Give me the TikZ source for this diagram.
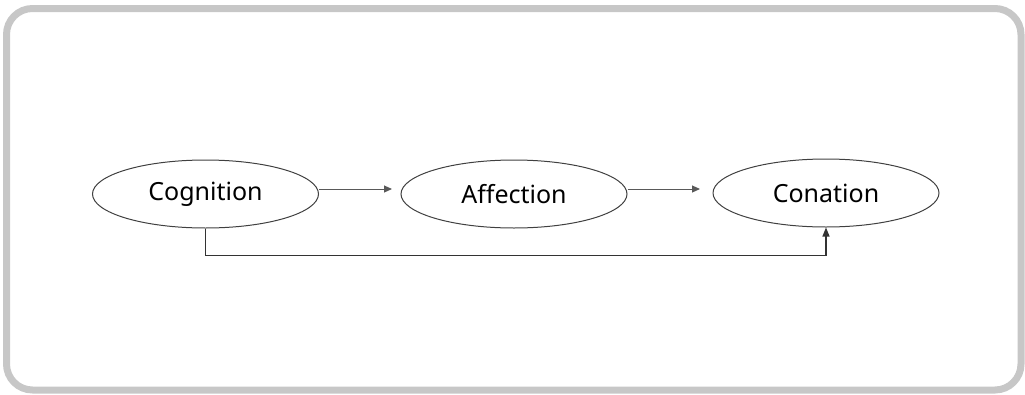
\documentclass[tikz,border=0pt]{standalone}
\usepackage{fontspec}
\setmainfont{Noto Sans}
\usetikzlibrary{shapes.geometric,arrows.meta}

\tikzset{
    stage/.style={ellipse, draw=black!75, line width=1pt, minimum width=226pt,
        minimum height=68pt, inner sep=0pt, font=\fontsize{25}{29}\selectfont},
    link/.style={draw=black!65, line width=1pt, -{Triangle[length=8pt,width=7pt]}},
}

\begin{document}
\begin{tikzpicture}[x=1pt, y=-1pt]
        % 画布大小与参考图一致
        \useasboundingbox (0, 0) rectangle (1025, 394);
        \draw[black!22, line width=7pt, rounded corners=26pt]
            (6.5, 8.5) rectangle (1021, 390);

        % 三个阶段
        \node[stage] (cog) at (205.5, 194) {Cognition};
        \node[stage] (aff) at (514, 194) {Affection};
        \node[stage] (con) at (826, 193) {Conation};

        \coordinate (e1) at (392, 189);
        \coordinate (e2) at (700, 189);
        \draw[link] (cog.east |- e1) -- (e1);
        \draw[link] (aff.east |- e2) -- (e2);

        % 下方的连线
        \draw[link, draw=black!80, line width=1.3pt, -{Triangle[length=9pt,width=7pt]}]
            (cog.south) -- ++(0, 27) -| (con.south);
    \end{tikzpicture}
\end{document}
